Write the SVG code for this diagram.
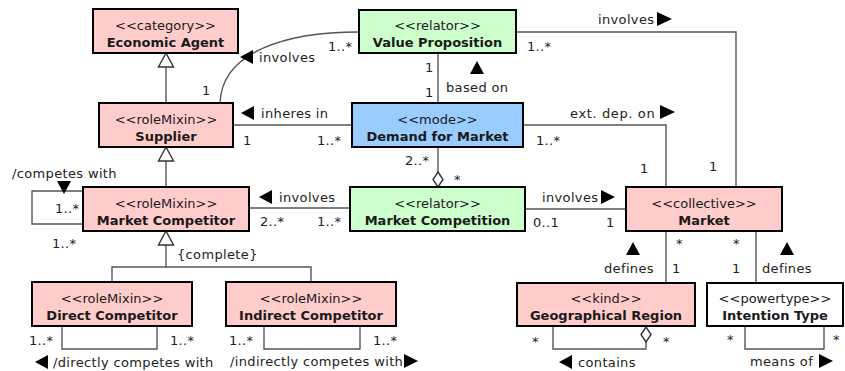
<svg xmlns="http://www.w3.org/2000/svg" width="845" height="371" viewBox="0 0 845 371">
<style>
text { font-family: "DejaVu Sans", "Liberation Sans", sans-serif; font-size: 13px; fill: #1a1a1a; }
.node rect { stroke: #000; stroke-width: 2; }
.pink { fill: #ffcccc; }
.green { fill: #ccffcc; }
.blue { fill: #99ccff; }
.white { fill: #ffffff; }
.st { text-anchor: middle; }
.nm { text-anchor: middle; font-weight: bold; }
#connectors path, #connectors line, #connectors polyline { fill: none; stroke: #555; stroke-width: 1.4; }
#connectors .hollow { fill: #fff; stroke: #333; stroke-width: 1.4; }
.lbl { fill: #222; letter-spacing: 0.35px; }
.tri { fill: #000; stroke: none; }
</style>

<g id="connectors">
  <!-- generalizations -->
  <line x1="166" y1="67" x2="166" y2="103"/>
  <polygon class="hollow" points="166,53 158.5,67 173.5,67"/>
  <line x1="166" y1="161" x2="166" y2="187"/>
  <polygon class="hollow" points="166,147 158.5,161 173.5,161"/>
  <polyline points="166,245 166,267"/>
  <polyline points="112,282 112,267 311,267 311,282"/>
  <polygon class="hollow" points="166,231 158.5,245 173.5,245"/>

  <!-- VP involves Supplier (curve) -->
  <path d="M359,32 C285,32 222,52 220,103"/>
  <!-- inheres in -->
  <line x1="233" y1="125" x2="352" y2="125"/>
  <!-- based on -->
  <line x1="438" y1="53" x2="438" y2="103"/>
  <!-- DfM aggregation Market Competition -->
  <line x1="438" y1="147" x2="438" y2="172"/>
  <polygon class="hollow" points="438,172 443,179.5 438,187 433,179.5"/>
  <!-- involves MC - Market Competition -->
  <line x1="249" y1="208" x2="350" y2="208"/>
  <!-- involves Market Competition - Market -->
  <line x1="525" y1="209" x2="626" y2="209"/>
  <!-- VP - Market -->
  <polyline points="516,32 736,32 736,187"/>
  <!-- DfM - Market -->
  <polyline points="523,125 666,125 666,187"/>
  <!-- Market - Geo -->
  <line x1="666" y1="231" x2="666" y2="283"/>
  <!-- Market - Intention -->
  <line x1="756" y1="231" x2="756" y2="283"/>
  <!-- self loops -->
  <polyline points="83,191 32,191 32,224 83,224"/>
  <polyline points="62,326 62,349 157,349 157,326"/>
  <polyline points="264,326 264,349 360,349 360,326"/>
  <polyline points="553,326 553,349 646,349 646,342"/>
  <polygon class="hollow" points="646,327 651,334.5 646,342 641,334.5"/>
  <polyline points="745,326 745,349 824,349 824,326"/>

  <!-- labels -->
  <text class="lbl" x="328" y="51">1..*</text>
  <polygon class="tri" points="240,57 253,50 253,64"/>
  <text class="lbl" x="259" y="62">involves</text>
  <text class="lbl" x="202" y="95">1</text>

  <polygon class="tri" points="241,113 254,106 254,120"/>
  <text class="lbl" x="261" y="118">inheres in</text>
  <text class="lbl" x="243" y="145">1</text>
  <text class="lbl" x="317" y="145">1..*</text>

  <text class="lbl" x="425" y="72">1</text>
  <text class="lbl" x="425" y="97">1</text>
  <polygon class="tri" points="477,61 484,74 470,74"/>
  <text class="lbl" x="446" y="92">based on</text>

  <text class="lbl" x="405" y="165">2..*</text>
  <text class="lbl" x="454" y="184">*</text>

  <polygon class="tri" points="259,197 272,190 272,204"/>
  <text class="lbl" x="279" y="202">involves</text>
  <text class="lbl" x="260" y="226">2..*</text>
  <text class="lbl" x="317" y="226">1..*</text>

  <text class="lbl" x="542" y="202">involves</text>
  <polygon class="tri" points="615,197 601,190 601,204"/>
  <text class="lbl" x="533" y="227">0..1</text>
  <text class="lbl" x="606" y="227">1</text>

  <text class="lbl" x="598" y="24">involves</text>
  <polygon class="tri" points="672,19 657,12 657,26"/>
  <text class="lbl" x="527" y="51">1..*</text>
  <text class="lbl" x="709" y="171">1</text>

  <text class="lbl" x="570" y="118" textLength="85">ext. dep. on</text>
  <polygon class="tri" points="675,112 660,105 660,119"/>
  <text class="lbl" x="536" y="145">1..*</text>
  <text class="lbl" x="640" y="173">1</text>

  <text class="lbl" x="676" y="248">*</text>
  <text class="lbl" x="733" y="248">*</text>
  <polygon class="tri" points="633,242 640,255 626,255"/>
  <text class="lbl" x="604" y="273">defines</text>
  <text class="lbl" x="672" y="273">1</text>
  <text class="lbl" x="732" y="273">1</text>
  <polygon class="tri" points="787,242 794,255 780,255"/>
  <text class="lbl" x="762" y="273">defines</text>

  <text class="lbl" x="532" y="346">*</text>
  <text class="lbl" x="663" y="346">*</text>
  <polygon class="tri" points="559,362 572,355 572,369"/>
  <text class="lbl" x="578" y="367">contains</text>

  <text class="lbl" x="727" y="344">*</text>
  <text class="lbl" x="833" y="344">*</text>
  <text class="lbl" x="750" y="366">means of</text>
  <polygon class="tri" points="833,361 819,354 819,368"/>

  <text class="lbl" x="12" y="178">/competes with</text>
  <polygon class="tri" points="57,181 71,181 64,194"/>
  <text class="lbl" x="55" y="213">1..*</text>
  <text class="lbl" x="52" y="248">1..*</text>

  <text class="lbl" x="29" y="345">1..*</text>
  <text class="lbl" x="170" y="345">1..*</text>
  <polygon class="tri" points="35,362 48,355 48,369"/>
  <text class="lbl" x="53" y="367">/directly competes with</text>

  <text class="lbl" x="229" y="345">1..*</text>
  <text class="lbl" x="373" y="345">1..*</text>
  <text class="lbl" x="230" y="366">/indirectly competes with</text>
  <polygon class="tri" points="418,361 404,354 404,368"/>

  <text class="lbl" x="177" y="259">{complete}</text>
</g>

<g id="economic-agent" class="node">
  <rect class="pink" x="93" y="9" width="145" height="44"/>
  <text class="st" x="165.5" y="30">&lt;&lt;category&gt;&gt;</text>
  <text class="nm" x="165.5" y="47">Economic Agent</text>
</g>
<g id="supplier" class="node">
  <rect class="pink" x="99" y="103" width="134" height="44"/>
  <text class="st" x="166" y="124">&lt;&lt;roleMixin&gt;&gt;</text>
  <text class="nm" x="166" y="141">Supplier</text>
</g>
<g id="market-competitor" class="node">
  <rect class="pink" x="83" y="187" width="166" height="44"/>
  <text class="st" x="166" y="208">&lt;&lt;roleMixin&gt;&gt;</text>
  <text class="nm" x="166" y="225">Market Competitor</text>
</g>
<g id="direct-competitor" class="node">
  <rect class="pink" x="32" y="282" width="160" height="44"/>
  <text class="st" x="112" y="303">&lt;&lt;roleMixin&gt;&gt;</text>
  <text class="nm" x="112" y="320">Direct Competitor</text>
</g>
<g id="indirect-competitor" class="node">
  <rect class="pink" x="226" y="282" width="170" height="44"/>
  <text class="st" x="311" y="303">&lt;&lt;roleMixin&gt;&gt;</text>
  <text class="nm" x="311" y="320">Indirect Competitor</text>
</g>
<g id="value-proposition" class="node">
  <rect class="green" x="359" y="10" width="157" height="43"/>
  <text class="st" x="437.5" y="30">&lt;&lt;relator&gt;&gt;</text>
  <text class="nm" x="437.5" y="47">Value Proposition</text>
</g>
<g id="demand-for-market" class="node">
  <rect class="blue" x="352" y="103" width="171" height="44"/>
  <text class="st" x="437.5" y="124">&lt;&lt;mode&gt;&gt;</text>
  <text class="nm" x="437.5" y="141">Demand for Market</text>
</g>
<g id="market-competition" class="node">
  <rect class="green" x="350" y="187" width="175" height="44"/>
  <text class="st" x="437.5" y="208">&lt;&lt;relator&gt;&gt;</text>
  <text class="nm" x="437.5" y="225">Market Competition</text>
</g>
<g id="market" class="node">
  <rect class="pink" x="626" y="187" width="156" height="44"/>
  <text class="st" x="704" y="208">&lt;&lt;collective&gt;&gt;</text>
  <text class="nm" x="704" y="225">Market</text>
</g>
<g id="geographical-region" class="node">
  <rect class="pink" x="517" y="283" width="178" height="43"/>
  <text class="st" x="606" y="303">&lt;&lt;kind&gt;&gt;</text>
  <text class="nm" x="606" y="320">Geographical Region</text>
</g>
<g id="intention-type" class="node">
  <rect class="white" x="707" y="283" width="136" height="43"/>
  <text class="st" x="775" y="303">&lt;&lt;powertype&gt;&gt;</text>
  <text class="nm" x="775" y="320">Intention Type</text>
</g>
</svg>
